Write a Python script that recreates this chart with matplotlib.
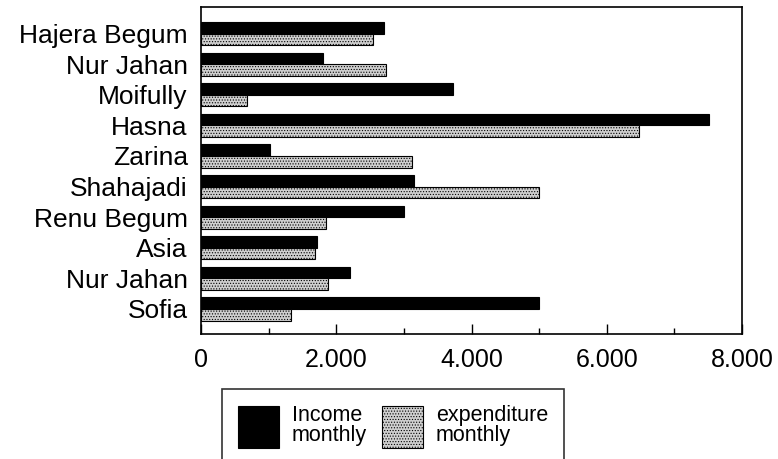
import numpy as np
import matplotlib.pyplot as plt
from matplotlib.ticker import FuncFormatter, MultipleLocator

plt.rcParams['font.family'] = ['Liberation Sans', 'DejaVu Sans']
plt.rcParams['hatch.linewidth'] = 0.5

# Monthly income and expenditure per woman (Taka)
names = ['Hajera Begum', 'Nur Jahan', 'Moifully', 'Hasna', 'Zarina',
         'Shahajadi', 'Renu Begum', 'Asia', 'Nur Jahan', 'Sofia']
income = [2710, 1800, 3730, 7510, 1025, 3150, 3005, 1720, 2210, 5000]
expenditure = [2550, 2730, 675, 6475, 3120, 5000, 1850, 1690, 1880, 1330]

fig = plt.figure(figsize=(7.78, 4.59), dpi=100)
ax = fig.add_axes([201 / 778, 1 - 334 / 459, 541 / 778, 327 / 459])

y = np.arange(len(names))
h = 0.38
ax.barh(y - h / 2, income, height=h, color='black', edgecolor='black',
        linewidth=0.8, label='Income\nmonthly')
ax.barh(y + h / 2, expenditure, height=h, color='#cfcfcf', edgecolor='black',
        hatch='......', linewidth=0.8, label='expenditure\nmonthly')

ax.set_xlim(0, 8000)
ax.set_ylim(len(names) - 1 + 0.82, -0.87)
ax.set_yticks(y)
ax.set_yticklabels(names)
ax.tick_params(axis='y', length=0, pad=9.5, labelsize=19)

ax.xaxis.set_major_locator(MultipleLocator(2000))
ax.xaxis.set_minor_locator(MultipleLocator(1000))
ax.xaxis.set_major_formatter(FuncFormatter(lambda v, p: f'{int(v):,}'.replace(',', '.')))
ax.tick_params(axis='x', which='major', direction='in', length=7.2, width=1,
               pad=10, labelsize=18)
ax.tick_params(axis='x', which='minor', direction='in', length=4, width=1)

for s in ax.spines.values():
    s.set_linewidth(1.2)

# legend box runs off the bottom edge of the figure
leg = fig.legend(loc='upper left', bbox_to_anchor=(222 / 778, 1 - 389 / 459),
                 ncol=2, fontsize=15.5, frameon=True, fancybox=False,
                 handlelength=1.9, handleheight=2.62, handletextpad=0.6,
                 columnspacing=0.7, borderpad=0.75, borderaxespad=0)
leg.get_frame().set_edgecolor('black')
leg.get_frame().set_linewidth(1.2)
for t in leg.get_texts():
    t.set_linespacing(0.95)

fig.savefig('out.png', dpi=100)
